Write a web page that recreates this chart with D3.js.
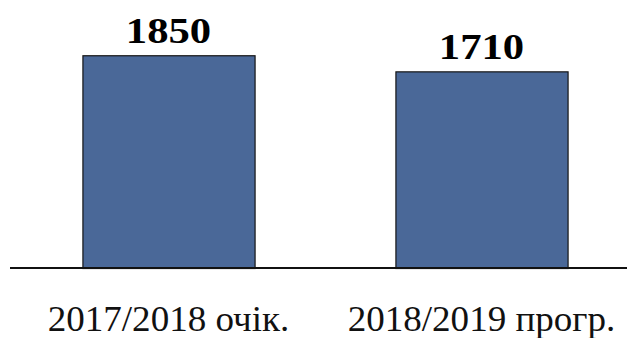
<!DOCTYPE html>
<html>
<head>
<meta charset="utf-8">
<script src="https://cdn.jsdelivr.net/npm/d3@7"></script>
<style>
  html, body { margin: 0; padding: 0; background: #fff; }
  svg { display: block; }
</style>
</head>
<body>
<svg id="chart" width="627" height="338"></svg>
<script>
// Periods and their values
const categories = ["2017/2018 очік.", "2018/2019 прогр."];
const values = [1850, 1710];

const svg = d3.select("#chart");
const W = 627, H = 338;
const baseY = 268;
const serif = '"Liberation Serif"';

const x = d3.scaleBand()
  .domain(categories)
  .range([12, 638])
  .paddingInner(0.45)
  .paddingOuter(0.225);

const y = d3.scaleLinear()
  .domain([0, 2000])
  .range([baseY, 38]);

// Bars
svg.selectAll("rect.bar")
  .data(categories)
  .join("rect")
  .attr("class", "bar")
  .attr("x", d => x(d) + 0.5)
  .attr("y", (d, i) => y(values[i]) + 0.5)
  .attr("width", x.bandwidth())
  .attr("height", (d, i) => baseY - y(values[i]))
  .attr("fill", "#4a6898")
  .attr("stroke", "#141414")
  .attr("stroke-width", 1.2);

// Category axis along the baseline
const axis = d3.axisBottom(x).tickSize(0).tickPadding(0);
const g = svg.append("g")
  .attr("transform", `translate(0,${baseY})`)
  .call(axis);
g.select(".domain").remove();
g.append("line")
  .attr("x1", 10).attr("x2", W)
  .attr("y1", 0).attr("y2", 0)
  .attr("stroke", "#111")
  .attr("stroke-width", 2);
g.selectAll(".tick text")
  .attr("y", 63)
  .attr("dy", 0)
  .attr("transform", "scale(1.03,1)")
  .attr("fill", "#111")
  .style("font-family", serif)
  .style("font-size", "36px");

// Value labels above bars
svg.selectAll("text.val")
  .data(categories)
  .join("text")
  .attr("class", "val")
  .attr("text-anchor", "middle")
  .attr("transform", (d, i) => `translate(${x(d) + x.bandwidth() / 2},${y(values[i]) - 12}) scale(1.22,1)`)
  .attr("fill", "#000")
  .style("font-family", serif)
  .style("font-weight", "bold")
  .style("font-size", "35px")
  .text((d, i) => values[i]);
</script>
</body>
</html>
